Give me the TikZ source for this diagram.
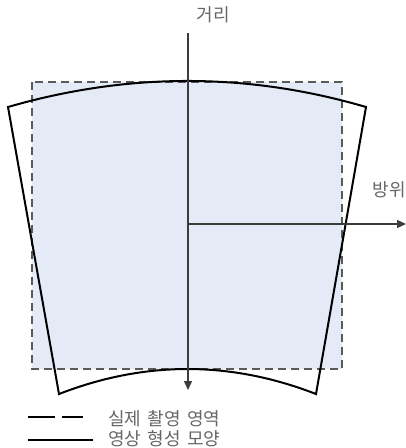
\documentclass[tikz,border=0pt]{standalone}
\usepackage{fontspec}
\newfontfamily\kor[WordSpace=1.6]{Noto Sans CJK KR}
\usetikzlibrary{arrows.meta}
\definecolor{areafill}{HTML}{E5EBF6}
\definecolor{dashgrey}{HTML}{5A5A5A}
\definecolor{axisgrey}{HTML}{3C3C3C}
\definecolor{textgrey}{HTML}{666666}
\tikzset{
  labeltext/.style={font=\kor\fontsize{18}{18}\selectfont, text=textgrey, inner sep=0pt},
  realarea/.style={draw=dashgrey, line width=1.5pt, dash pattern=on 8pt off 5pt},
  imageshape/.style={draw=black, line width=2pt, line join=miter},
  axisline/.style={draw=axisgrey, line width=1.4pt, -{Triangle[length=9pt,width=8pt]}}
}
\begin{document}
\begin{tikzpicture}[x=1pt,y=-1pt]
\useasboundingbox (0,0) rectangle (406,448);
% real captured area
\fill[areafill] (32,82) rectangle (342,369);
\draw[realarea] (32,82) rectangle (342,369);
% image formation shape
\coordinate (tl) at (8,107);
\coordinate (tr) at (366,107);
\coordinate (br) at (316,394);
\coordinate (bl) at (59,394);
\draw[imageshape] (tl) .. controls (128,72.3) and (247.3,72.3) .. (tr)
  -- (br) .. controls (230.3,360.7) and (144.7,360.7) .. (bl) -- cycle;
% axes
\coordinate (vtop) at (188,33);
\coordinate (vbot) at (188,390);
\coordinate (origin) at (188,224);
\coordinate (hend) at (406,224);
\draw[axisline] (vtop) -- (vbot);
\draw[axisline] (origin) -- (hend);
\node[labeltext] (dist) at (213,15) {거리};
\node[labeltext, anchor=east] (azim) at (406,190) {방위};
% legend
\coordinate (l1a) at (28,417);
\coordinate (l1b) at (83,417);
\coordinate (l2a) at (28,440);
\coordinate (l2b) at (93,440);
\draw[draw=black, line width=1.7pt, dash pattern=on 27pt off 7pt] (l1a) -- (l1b);
\draw[draw=black, line width=1.7pt] (l2a) -- (l2b);
\node[labeltext, anchor=west] (leg1) at (108,419) {실제 촬영 영역};
\node[labeltext, anchor=west] (leg2) at (108,439) {영상 형성 모양};
\end{tikzpicture}
\end{document}
